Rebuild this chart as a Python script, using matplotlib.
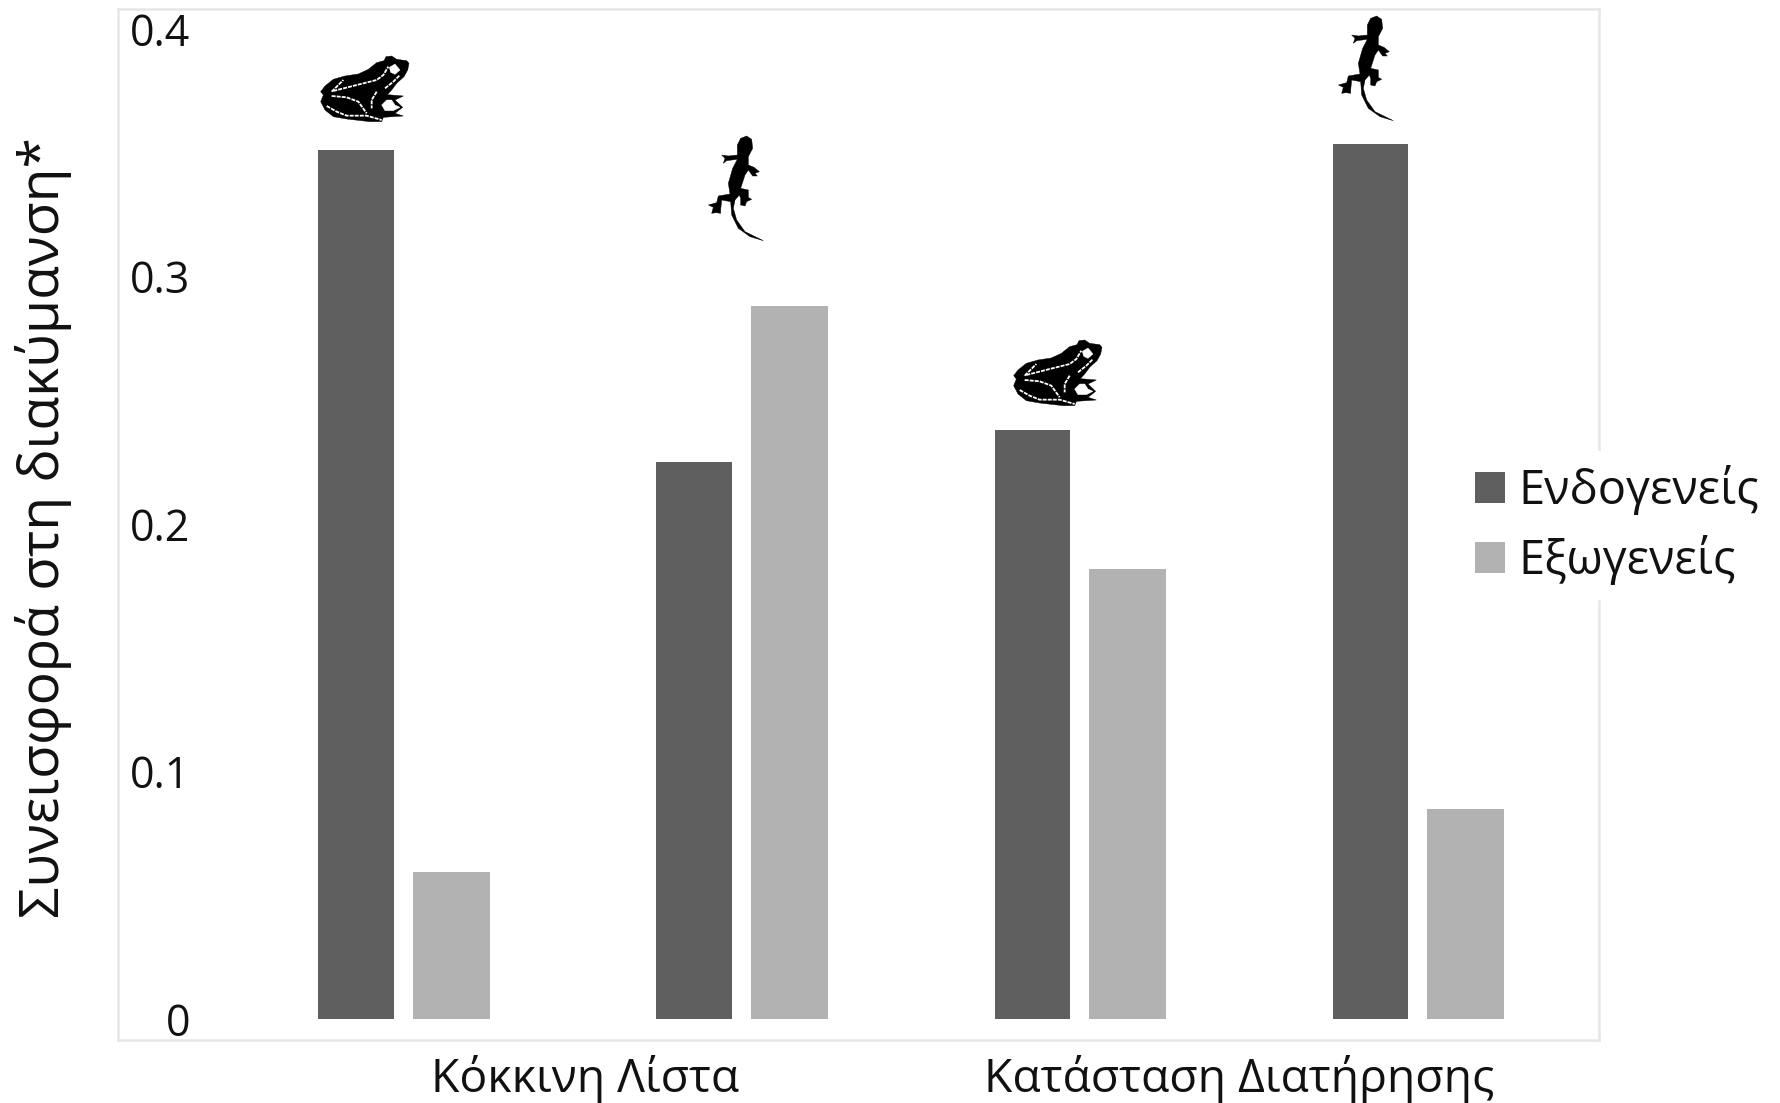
import matplotlib
matplotlib.use("Agg")
import matplotlib.pyplot as plt
from matplotlib.path import Path
from matplotlib.patches import PathPatch
from matplotlib.transforms import Affine2D
import numpy as np

plt.rcParams['font.family'] = ['Open Sans', 'Noto Sans', 'DejaVu Sans']

W, H, DPI = 1781, 1103, 100

positions = [0, 1, 2, 3]
endogenous = [0.351, 0.225, 0.238, 0.3535]
exogenous = [0.0594, 0.288, 0.182, 0.085]
series_names = ['Ενδογενείς', 'Εξωγενείς']
y_ticks = [0, 0.1, 0.2, 0.3, 0.4]
y_tick_labels = ['0', '0.1', '0.2', '0.3', '0.4']
cat_positions = [0.535, 2.47]
cat_labels = ['Κόκκινη Λίστα', 'Κατάσταση Διατήρησης']
y_title = 'Συνεισφορά στη διακύμανση*'

DARK, LIGHT, FRAME = '#5F5F5F', '#B2B2B2', '#E6E6E6'

fig = plt.figure(figsize=(W / DPI, H / DPI), dpi=DPI, facecolor='white')
L, R, T, B = 118, 1599, 9, 1040
ax = fig.add_axes([L / W, 1 - B / H, (R - L) / W, (B - T) / H])
ax.set_xlim(-0.845, 3.535)
ax.set_ylim(-0.00836, 0.408)

x = np.array(positions)
offset = 0.141
dark_width, light_width = 0.223, 0.229
b1 = ax.bar(x - offset, endogenous, dark_width, color=DARK, label=series_names[0])
b2 = ax.bar(x + offset, exogenous, light_width, color=LIGHT, label=series_names[1])

for s in ax.spines.values():
    s.set_color(FRAME)
    s.set_linewidth(1.8)

ax.set_yticks(y_ticks, y_tick_labels)
ax.tick_params(axis='y', length=0, pad=-52, labelsize=31, colors='#111111')
ax.set_xticks(cat_positions, cat_labels)
ax.tick_params(axis='x', length=0, pad=11, labelsize=33.3, colors='#111111')
ax.set_ylabel(y_title, fontsize=39.8, color='#111111')
ax.yaxis.set_label_coords((72 - L) / (R - L), 1 - (528 - T) / (B - T))

leg = ax.legend(handles=[b1, b2], labels=series_names, loc='center left',
                bbox_to_anchor=((1461 - L) / (R - L), 1 - (525 - T) / (B - T)),
                frameon=True, framealpha=1, facecolor='white', edgecolor='white',
                fancybox=False, fontsize=33.8, handlelength=0.63, handleheight=0.63,
                handletextpad=0.30, labelspacing=0.42, borderpad=0.30,
                borderaxespad=0, labelcolor='#111111')
leg.set_zorder(5)
leg.set_clip_on(False)

frog_body = [(122,215),(135,198),(160,178),(195,168),(235,162),(265,148),(290,128),(312,122),
             (318,110),(335,108),(350,118),(380,122),(387,130),(383,150),(372,170),(350,190),
             (335,210),(322,224),(370,228),(345,240),(368,262),(345,280),(370,288),(310,292),
             (305,305),(270,305),(200,297),(160,290),(135,270),(122,245),(130,225)]
frog_eye = [(328,142),(345,132),(360,150),(345,163),(332,157)]
frog_foot = [(305,255),(320,240),(335,240),(345,255),(360,262),(340,272),(315,272)]
frog_lines = [[(155,215),(190,180)],
              [(160,213),(230,195),(290,180),(310,165),(325,140)],
              [(155,228),(200,232),(235,245),(260,280)],
              [(140,258),(170,275),(200,287),(260,287),(305,300)],
              [(290,215),(275,240),(275,265)],
              [(315,205),(340,185),(360,165)]]
lizard_body = [(200,48),(215,58),(218,85),(205,110),(205,135),(222,142),(238,155),(225,160),
               (232,168),(218,168),(205,150),(195,165),(182,205),(205,210),(205,232),(215,238),
               (200,245),(195,258),(182,255),(182,235),(178,225),(165,240),(160,265),(170,300),
               (195,335),(250,362),(210,350),(175,325),(155,285),(152,245),(125,240),(122,270),
               (122,280),(108,278),(95,280),(100,262),(85,255),(110,248),(115,228),(150,222),
               (145,190),(158,145),(172,118),(140,122),(130,130),(135,115),(125,105),(145,108),
               (172,105),(172,75),(182,55)]


def icon_tf(x0, y0):
    return Affine2D().scale(1 / 3, -1 / 3).translate(x0, H - y0)


def add_poly(points, tf, color):
    path = Path(points + [points[0]], closed=True)
    fig.add_artist(PathPatch(path, facecolor=color, edgecolor=color, lw=0.3, transform=tf, zorder=6))


def add_frog(x0, y0):
    tf = icon_tf(x0, y0)
    add_poly(frog_body, tf, 'black')
    add_poly(frog_eye, tf, 'white')
    add_poly(frog_foot, tf, 'white')
    for line in frog_lines:
        xs, ys = zip(*line)
        fig.add_artist(plt.Line2D(xs, ys, color='white', lw=1.3, ls=(0, (2.2, 0.6)), transform=tf, zorder=7))


def add_lizard(x0, y0):
    add_poly(lizard_body, icon_tf(x0, y0), 'black')


add_frog(280, 20)
add_frog(280 + 693, 20 + 284)
add_lizard(680, 120)
add_lizard(680 + 630, 120 - 120)

fig.savefig('out.png', dpi=DPI, facecolor='white')
